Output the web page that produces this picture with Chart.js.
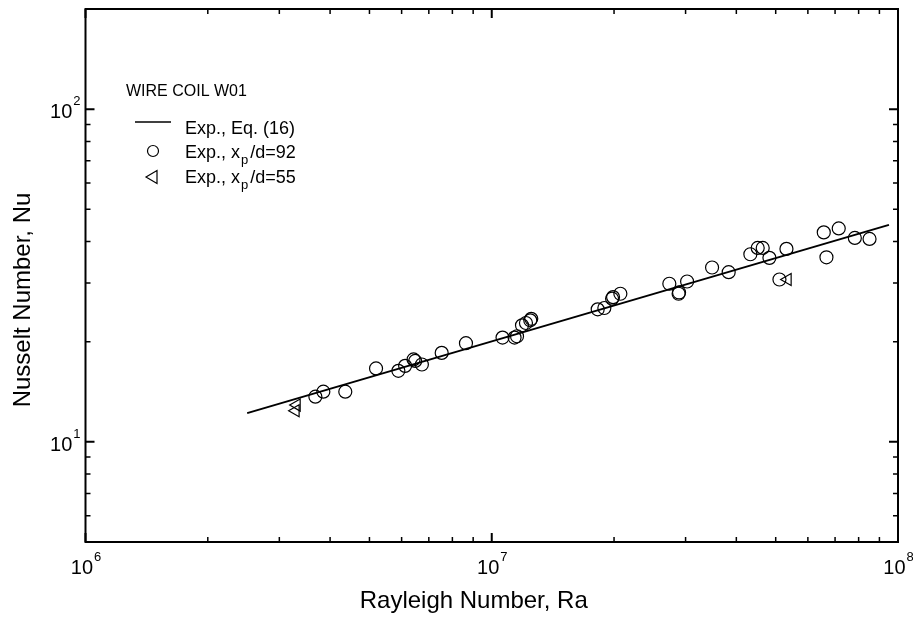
<!DOCTYPE html>
<html>
<head>
<meta charset="utf-8">
<script src="https://cdn.jsdelivr.net/npm/chart.js@4.4.0/dist/chart.umd.min.js"></script>
<style>
  html, body { margin: 0; padding: 0; background: #fff; }
</style>
</head>
<body>
<canvas id="nu-ra" width="913" height="619"></canvas>
<script>
// correlation line, Eq. (16)
const raFit = [2.5e6, 9.5e7];
const nuFit = [12.2, 44.9];

// x_p/d = 92
const raP92 = [3.68e6, 3.85e6, 4.36e6, 5.19e6, 5.89e6, 6.12e6, 6.42e6, 6.48e6, 6.73e6, 7.53e6,
  8.64e6, 1.063e7, 1.138e7, 1.154e7, 1.187e7, 1.214e7, 1.244e7, 1.251e7, 1.823e7, 1.893e7,
  1.978e7, 1.989e7, 2.073e7, 2.736e7, 2.884e7, 2.891e7, 3.026e7, 3.486e7, 3.83e7, 4.331e7,
  4.515e7, 4.645e7, 4.825e7, 5.314e7, 5.107e7, 6.566e7, 7.147e7, 6.666e7, 7.83e7, 8.51e7];
const nuP92 = [13.67, 14.15, 14.15, 16.62, 16.35, 16.92, 17.69, 17.51, 17.08, 18.51,
  19.79, 20.58, 20.58, 20.77, 22.4, 22.76, 23.19, 23.43, 25.02, 25.25,
  26.93, 27.23, 27.87, 29.87, 27.87, 28.12, 30.34, 33.42, 32.36, 36.63,
  38.28, 38.28, 35.73, 38.02, 30.76, 42.62, 43.81, 35.87, 41.02, 40.74];

// x_p/d = 55
const raP55 = [3.31e6, 3.29e6, 5.35e7];
const nuP55 = [12.9, 12.4, 30.76];

const xMajor = [1e6, 1e7, 1e8];
const yMajor = [10, 100];
const xMinor = [2e6, 3e6, 4e6, 5e6, 6e6, 7e6, 8e6, 9e6, 2e7, 3e7, 4e7, 5e7, 6e7, 7e7, 8e7, 9e7];
const yMinor = [6, 7, 8, 9, 20, 30, 40, 50, 60, 70, 80, 90];

const FONT = '"Liberation Sans", Arial, Helvetica, sans-serif';

const toPoints = (xs, ys) => xs.map((v, i) => ({ x: v, y: ys[i] }));

function drawPower(ctx, exp, x, y, align) {
  // "10" with a raised exponent
  ctx.font = '20px ' + FONT;
  const wBase = ctx.measureText('10').width;
  ctx.font = '13px ' + FONT;
  const wExp = ctx.measureText(exp).width;
  let left;
  if (align === 'center') left = x - (wBase + wExp) / 2;
  else left = x - wBase - wExp;
  ctx.textAlign = 'left';
  ctx.textBaseline = 'alphabetic';
  ctx.font = '20px ' + FONT;
  ctx.fillText('10', left, y);
  ctx.font = '13px ' + FONT;
  ctx.fillText(exp, left + wBase + 1, y - 13);
}

const axesPlugin = {
  id: 'axesPlugin',
  afterDraw(chart) {
    const { ctx, chartArea: a, scales: { x, y } } = chart;
    ctx.save();
    ctx.fillStyle = '#000';
    ctx.strokeStyle = '#000';

    // frame
    ctx.lineWidth = 2;
    ctx.strokeRect(a.left, a.top, a.right - a.left, a.bottom - a.top);

    // inward ticks on all four sides
    const tick = (px, len, horiz) => {
      ctx.beginPath();
      if (horiz) {
        ctx.moveTo(px, a.bottom); ctx.lineTo(px, a.bottom - len);
        ctx.moveTo(px, a.top); ctx.lineTo(px, a.top + len);
      } else {
        ctx.moveTo(a.left, px); ctx.lineTo(a.left + len, px);
        ctx.moveTo(a.right, px); ctx.lineTo(a.right - len, px);
      }
      ctx.stroke();
    };
    ctx.lineWidth = 1.5;
    xMinor.forEach(v => tick(x.getPixelForValue(v), 5, true));
    yMinor.forEach(v => tick(y.getPixelForValue(v), 5, false));
    ctx.lineWidth = 2;
    xMajor.forEach(v => tick(x.getPixelForValue(v), 9, true));
    yMajor.forEach(v => tick(y.getPixelForValue(v), 9, false));

    // tick labels
    xMajor.forEach(v => drawPower(ctx, String(Math.round(Math.log10(v))), x.getPixelForValue(v), a.bottom + 32, 'center'));
    yMajor.forEach(v => drawPower(ctx, String(Math.round(Math.log10(v))), a.left - 6, y.getPixelForValue(v) + 9, 'right'));

    // axis titles
    ctx.font = '24px ' + FONT;
    ctx.textAlign = 'center';
    ctx.textBaseline = 'middle';
    ctx.fillText('Rayleigh Number, Ra', (a.left + a.right) / 2 - 18, 601);
    ctx.save();
    ctx.translate(23, 300);
    ctx.rotate(-Math.PI / 2);
    ctx.fillText('Nusselt Number, Nu', 0, 0);
    ctx.restore();

    // legend
    ctx.textAlign = 'left';
    ctx.textBaseline = 'middle';
    ctx.font = '16px ' + FONT;
    ctx.fillText('WIRE COIL W01', 126, 92);

    ctx.lineWidth = 1.3;
    ctx.beginPath();
    ctx.moveTo(135, 122); ctx.lineTo(171, 122);
    ctx.stroke();
    ctx.font = '18px ' + FONT;
    ctx.fillText('Exp., Eq. (16)', 185, 129);

    ctx.lineWidth = 1.2;
    ctx.beginPath();
    ctx.arc(153, 151, 5.5, 0, Math.PI * 2);
    ctx.stroke();
    ctx.beginPath();
    ctx.moveTo(146, 177); ctx.lineTo(157, 170.5); ctx.lineTo(157, 183.5); ctx.closePath();
    ctx.stroke();

    const subRow = (label, yc) => {
      ctx.font = '18px ' + FONT;
      let px = 185;
      ctx.fillText('Exp., x', px, yc);
      px += ctx.measureText('Exp., x').width;
      ctx.font = '13px ' + FONT;
      ctx.fillText('p', px + 1, yc + 7);
      px += ctx.measureText('p').width + 3;
      ctx.font = '18px ' + FONT;
      ctx.fillText('/d=' + label, px, yc);
    };
    subRow('92', 153);
    subRow('55', 178);

    ctx.restore();
  }
};

new Chart(document.getElementById('nu-ra'), {
  type: 'scatter',
  data: {
    datasets: [
      {
        label: 'Exp., Eq. (16)',
        data: toPoints(raFit, nuFit),
        showLine: true,
        borderColor: '#000',
        borderWidth: 2,
        pointRadius: 0
      },
      {
        label: 'Exp., xp/d=92',
        data: toPoints(raP92, nuP92),
        pointStyle: 'circle',
        pointRadius: 6.5,
        borderWidth: 1.2,
        borderColor: '#000',
        backgroundColor: 'rgba(0,0,0,0)'
      },
      {
        label: 'Exp., xp/d=55',
        data: toPoints(raP55, nuP55),
        pointStyle: 'triangle',
        rotation: -90,
        pointRadius: 7,
        borderWidth: 1.2,
        borderColor: '#000',
        backgroundColor: 'rgba(0,0,0,0)'
      }
    ]
  },
  options: {
    responsive: false,
    devicePixelRatio: 1,
    animation: false,
    layout: { padding: { left: 85.5, right: 15, top: 9, bottom: 77 } },
    plugins: { legend: { display: false }, tooltip: { enabled: false } },
    scales: {
      x: { type: 'logarithmic', min: 1e6, max: 1e8, display: false },
      y: { type: 'logarithmic', min: 5, max: 200, display: false }
    }
  },
  plugins: [axesPlugin]
});
</script>
</body>
</html>
